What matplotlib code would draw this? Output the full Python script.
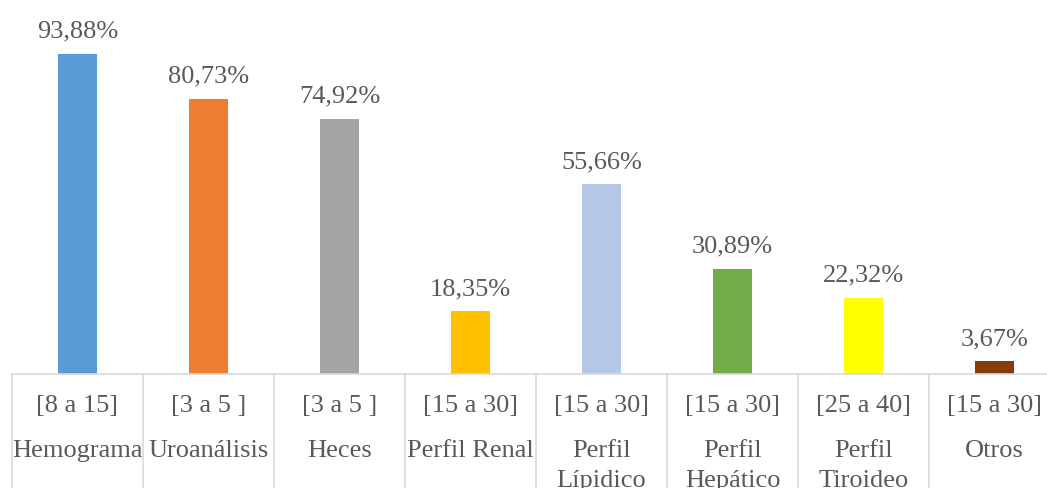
import matplotlib
matplotlib.use("Agg")
import matplotlib.pyplot as plt
import matplotlib.transforms as mtransforms

# datos
rangos = ["[8 a 15]", "[3 a 5 ]", "[3 a 5 ]", "[15 a 30]", "[15 a 30]",
          "[15 a 30]", "[25 a 40]", "[15 a 30]"]
examenes = ["Hemograma", "Uroanálisis", "Heces", "Perfil Renal",
            "Perfil\nLípidico", "Perfil\nHepático", "Perfil\nTiroideo", "Otros"]
porcentajes = [93.88, 80.73, 74.92, 18.35, 55.66, 30.89, 22.32, 3.67]
colores = ["#5B9BD5", "#ED7D31", "#A5A5A5", "#FFC000", "#B4C7E7",
           "#70AD47", "#FFFF00", "#843C0C"]

plt.rcParams["font.family"] = ["Liberation Serif", "DejaVu Serif"]
texto = "#595959"
gris = "#D9D9D9"

W, H = 1047, 488
fig = plt.figure(figsize=(W / 100, H / 100), dpi=100)
ax = fig.add_axes([12 / W, (H - 374) / H, 1048 / W, 374 / H])

x = list(range(len(porcentajes)))
ax.bar(x, porcentajes, width=0.3, color=colores, zorder=2)
ax.set_xlim(-0.5, len(porcentajes) - 0.5)
ax.set_ylim(0, 374 / 3.41)

for xi, v in zip(x, porcentajes):
    ax.annotate(f"{v:.2f}%".replace(".", ","), (xi, v), xytext=(0, 8),
                textcoords="offset points", ha="center", va="bottom",
                fontsize=19, color=texto)

for s in ["top", "right", "left"]:
    ax.spines[s].set_visible(False)
ax.spines["bottom"].set_color(gris)
ax.spines["bottom"].set_linewidth(1.2)
ax.set_yticks([])
ax.set_xticks([])
ax.set_xticks([i - 0.5 for i in range(len(porcentajes) + 1)], minor=True)
ax.tick_params(axis="x", which="minor", direction="out", length=120 * 0.72,
               width=1.2, color=gris, labelbottom=False)

trans = mtransforms.blended_transform_factory(ax.transData, ax.transAxes)
for xi, r, e in zip(x, rangos, examenes):
    ax.text(xi, -32 / 374, r, transform=trans, ha="center", va="center",
            fontsize=19, color=texto)
    ax.text(xi, -66 / 374, e, transform=trans, ha="center", va="top",
            fontsize=19, color=texto, linespacing=1.45)

fig.savefig("out.png", dpi=100)
